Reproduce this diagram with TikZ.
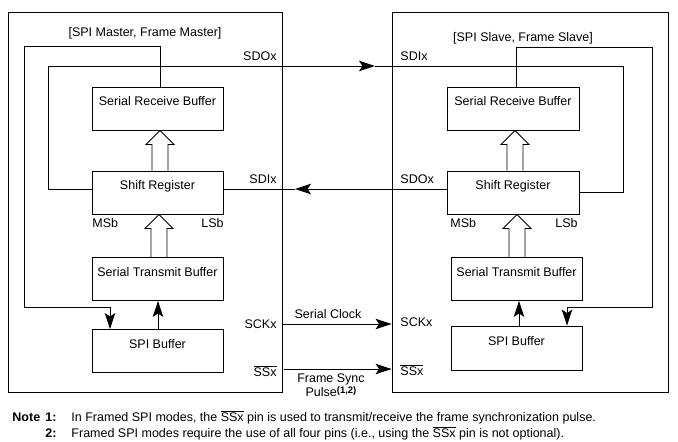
\documentclass[tikz,border=0pt]{standalone}
\usepackage{fontspec}
\setmainfont{Liberation Sans}
\usetikzlibrary{arrows.meta,calc}
\newcommand\ovl[1]{$\overline{\mbox{#1}}$}
\newcommand\hollowup[3]{%
  \draw let \p1=(#1.north), \p2=(#2.south) in
    (\x1+#3-8pt,\y1) -- (\x1+#3-8pt,\y2-14pt) -- (\x1+#3-14pt,\y2-14pt) --
    (\x1+#3,\y2) -- (\x1+#3+14pt,\y2-14pt) -- (\x1+#3+8pt,\y2-14pt) -- (\x1+#3+8pt,\y1);}
\begin{document}
\begin{tikzpicture}[x=1pt,y=-1pt, line width=0.9pt,
  lbl/.style={font=\fontsize{12.5}{15}\selectfont, inner sep=0pt},
  blk/.style={draw, minimum width=131pt, minimum height=43pt, inner sep=0pt,
              text height=9pt, text depth=15pt, font=\fontsize{12.5}{15}\selectfont},
  outer/.style={draw, inner sep=0pt},
  tip/.style={-{Stealth[length=16pt,width=10.5pt,inset=3.5pt]}}]
\useasboundingbox (0,0) rectangle (678,442);

% outer frames
\node[outer, minimum width=274pt, minimum height=380pt] (mst) at (145,202) {};
\node[outer, minimum width=276pt, minimum height=380pt] (slv) at (530,202) {};
\node[lbl] (tmst) at (145,33) {[SPI Master, Frame Master]};
\node[lbl] (tslv) at (523,38) {[SPI Slave, Frame Slave]};

% blocks master
\node[blk] (rbL) at (157.5,108.5) {Serial Receive Buffer};
\node[blk] (srL) at (157.5,192.5) {Shift Register};
\node[blk] (tbL) at (157.5,279) {Serial Transmit Buffer};
\node[blk] (spL) at (157.5,351) {SPI Buffer};
% blocks slave
\node[blk, minimum width=132pt] (rbR) at (513,108.5) {Serial Receive Buffer};
\node[blk, minimum width=132pt] (srR) at (513,192.5) {Shift Register};
\node[blk] (tbR) at (516.5,279) {Serial Transmit Buffer};
\node[blk, minimum height=44pt] (spR) at (516.5,348) {SPI Buffer};

% hollow arrows
\hollowup{srL}{rbL}{2.5pt}
\hollowup{tbL}{srL}{1.5pt}
\hollowup{srR}{rbR}{2pt}
\hollowup{tbR}{srR}{0.5pt}

% SPI buffer -> transmit buffer
\draw[tip] ([xshift=0.5pt]spL.north) -- ([xshift=0.5pt]tbL.south);
\draw[tip] ([xshift=2.5pt]spR.north) -- ([xshift=2.5pt]tbR.south);

% receive-buffer loops
\coordinate (l1) at (24,46);
\coordinate (l2) at (24,307);
\draw[tip] ([xshift=2.5pt]rbL.north) |- (l1) -- (l2) -| ([xshift=-47.5pt]spL.north);
\coordinate (r1) at (652,47);
\coordinate (r2) at (652,307);
\draw[tip] ([xshift=3pt]rbR.north) |- (r1) -- (r2) -| ([xshift=50.5pt]spR.north);

% SDO master -> SDI slave
\coordinate (a1) at (48,66);
\coordinate (a2) at (375,66);
\coordinate (a3) at (623,66);
\draw ([yshift=3.5pt]srL.west) -| (a1);
\draw[tip] (a1) -- (a2);
\draw (a2) -- (a3) |- (srR.east);

% SDO slave -> SDI master
\coordinate (b1) at (295,189);
\draw[tip] ([yshift=3.5pt]srR.west) -- (b1);
\draw (b1) -- ([yshift=3.5pt]srL.east);

% SCK and SS
\coordinate (ckY) at (0,324);
\draw[tip] (mst.east |- ckY) -- (slv.west |- ckY);
\coordinate (ss0) at (284,369);
\draw[tip] (ss0) -- (slv.west |- ss0);

% pin labels
\node[lbl, anchor=east] (sdoL) at (277,56) {SDOx};
\node[lbl, anchor=west] (sdiR) at (400,56) {SDIx};
\node[lbl, anchor=east] (sdiL) at (277,179) {SDIx};
\node[lbl, anchor=west] (sdoR) at (400,179) {SDOx};
\node[lbl, anchor=west] (msbL) at (92,223) {MSb};
\node[lbl, anchor=east] (lsbL) at (224,223) {LSb};
\node[lbl, anchor=west] (msbR) at (450,223) {MSb};
\node[lbl, anchor=east] (lsbR) at (578,223) {LSb};
\node[lbl, anchor=east] (sckL) at (277,324) {SCKx};
\node[lbl, anchor=west] (sckR) at (400,322) {SCKx};
\node[lbl] (sclk) at (328,314) {Serial Clock};
\node[lbl, anchor=east] (ssL) at (277,371) {\ovl{SSx}};
\node[lbl, anchor=west] (ssR) at (400,370) {\ovl{SSx}};
\node[lbl, align=center, font=\fontsize{12.5}{11.5}\selectfont] (fsp) at (331,385)
  {Frame Sync\\Pulse\raisebox{3pt}{\fontsize{9.5}{10}\selectfont\textbf{(1,2)}}};

% notes
\node[lbl, anchor=base west] (nk1) at (12,421) {\textbf{Note}};
\node[lbl, anchor=base east] (n1k) at (57,421) {\textbf{1:}};
\node[lbl, anchor=base west] (n1) at (71,421)
  {In Framed SPI modes, the \ovl{SSx} pin is used to transmit/receive the frame synchronization pulse.};
\node[lbl, anchor=base east] (n2k) at (57,437) {\textbf{2:}};
\node[lbl, anchor=base west] (n2) at (71,437)
  {Framed SPI modes require the use of all four pins (i.e., using the \ovl{SSx} pin is not optional).};
\end{tikzpicture}
\end{document}
